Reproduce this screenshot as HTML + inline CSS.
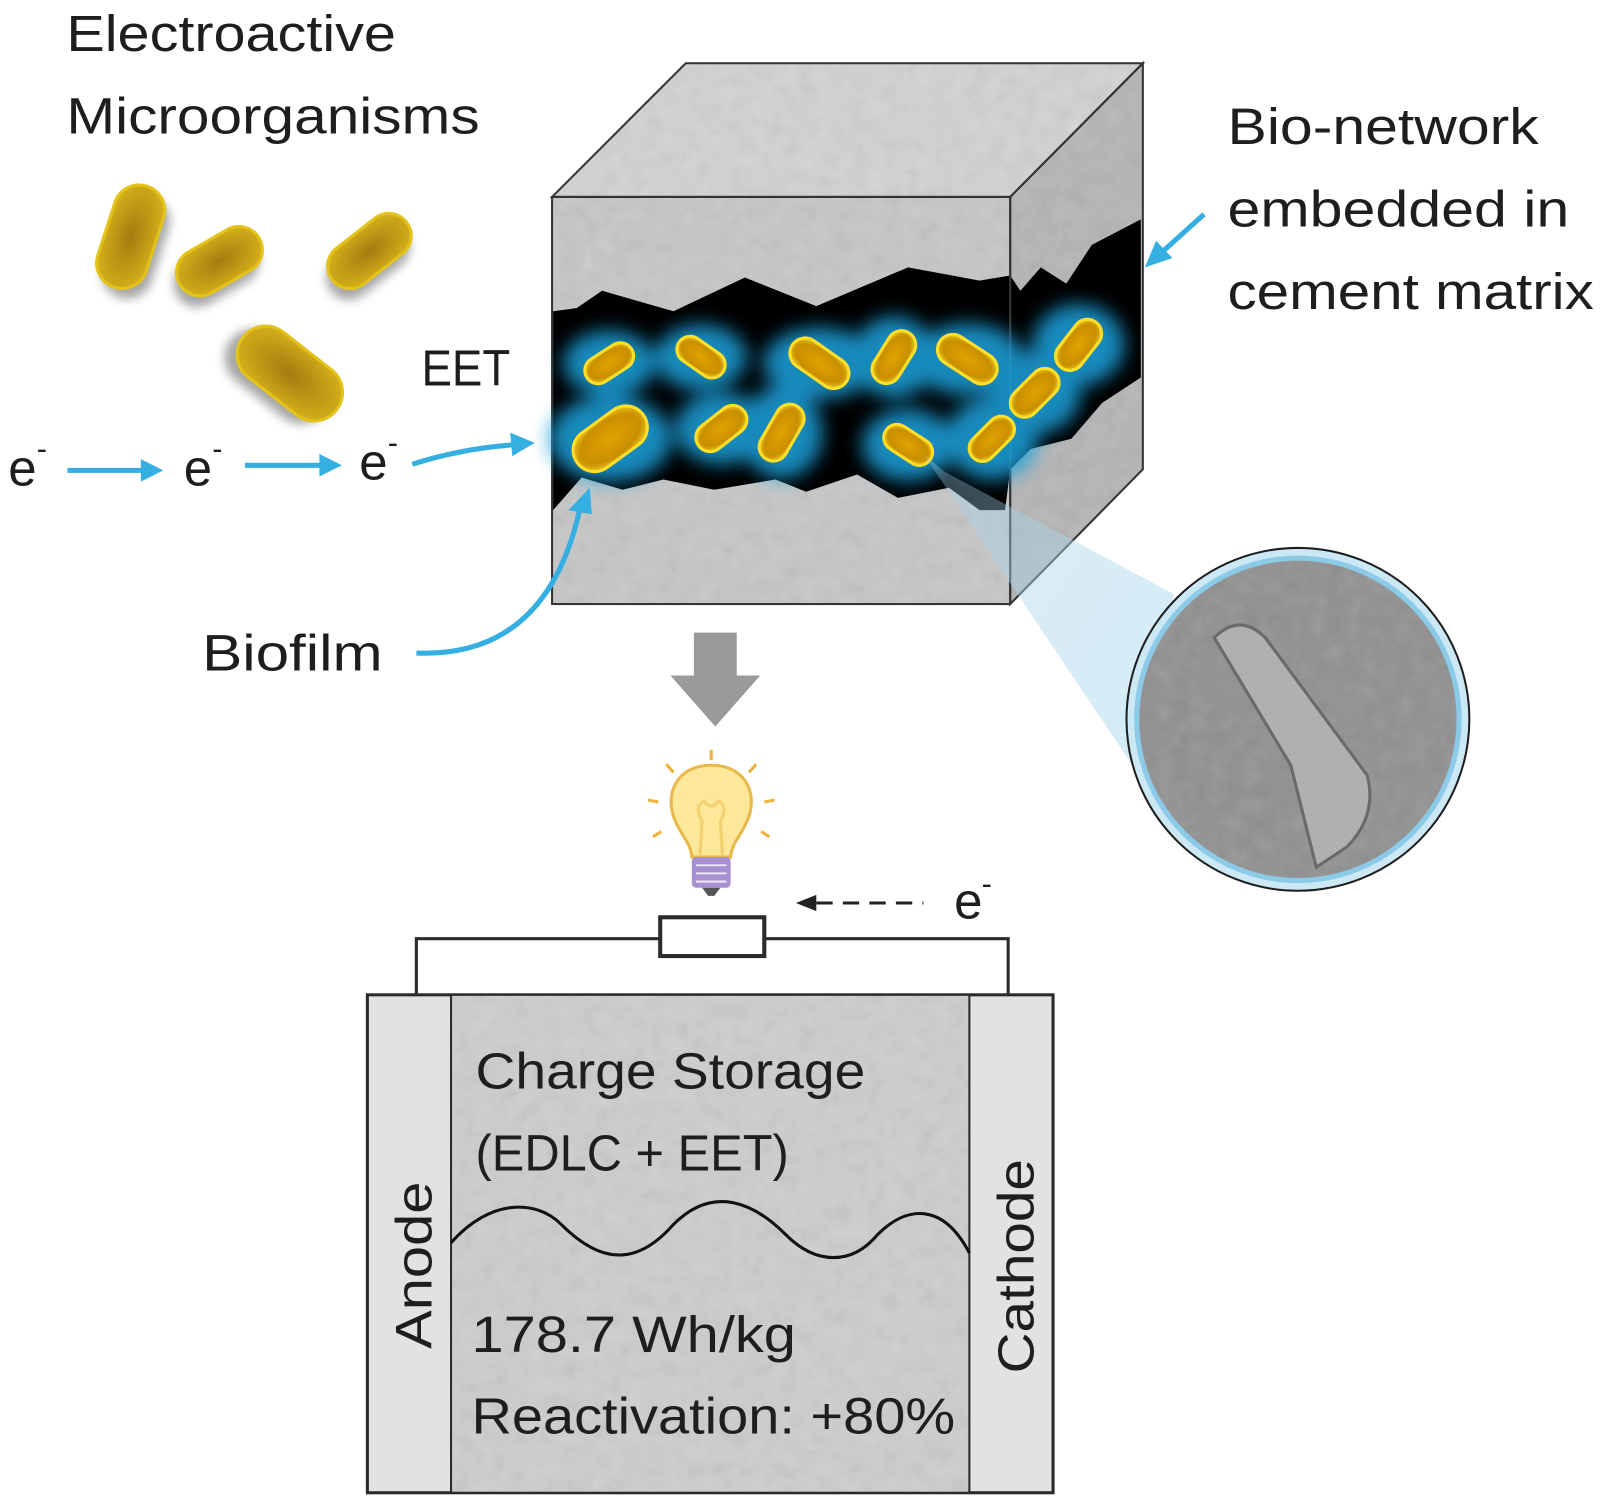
<!DOCTYPE html>
<html><head><meta charset="utf-8"><style>
html,body{margin:0;padding:0;background:#fff;}
svg{display:block;}
text{font-family:"Liberation Sans","DejaVu Sans",sans-serif;fill:#1e1e1e;}
</style></head><body>
<svg width="1600" height="1505" viewBox="0 0 1568 1475" xmlns="http://www.w3.org/2000/svg">
<defs>
<filter id="glow" x="-50%" y="-50%" width="200%" height="200%"><feGaussianBlur stdDeviation="9"/></filter>
<filter id="sh" x="-50%" y="-50%" width="200%" height="200%"><feGaussianBlur stdDeviation="5"/></filter>
<filter id="noise" x="0" y="0" width="1" height="1"><feTurbulence type="fractalNoise" baseFrequency="0.06" numOctaves="3" seed="3"/><feColorMatrix type="saturate" values="0"/><feComponentTransfer><feFuncA type="linear" slope="0.22"/></feComponentTransfer></filter>
<linearGradient id="cone" x1="0" y1="0" x2="1" y2="1"><stop offset="0" stop-color="#9fcfe8" stop-opacity="0.4"/><stop offset="1" stop-color="#bfe2f3" stop-opacity="0.9"/></linearGradient>
<radialGradient id="rodY" cx="0.5" cy="0.5" r="0.6"><stop offset="0" stop-color="#e0a300"/><stop offset="0.7" stop-color="#c98f00"/><stop offset="1" stop-color="#f3d020"/></radialGradient>
<radialGradient id="rodB" cx="0.5" cy="0.5" r="0.6"><stop offset="0" stop-color="#a67a10"/><stop offset="1" stop-color="#d7b21a"/></radialGradient>
<clipPath id="circ"><circle cx="1272" cy="705" r="158"/></clipPath>
<clipPath id="mid"><rect x="442" y="975" width="508" height="488"/></clipPath>
<clipPath id="cube"><polygon points="541,193 672,62 1120,62 1120,460 990,592 541,592"/></clipPath>
</defs>

<!-- titles -->
<text x="65" y="50" font-size="50" textLength="323" lengthAdjust="spacingAndGlyphs">Electroactive</text>
<text x="65" y="131" font-size="50" textLength="405" lengthAdjust="spacingAndGlyphs">Microorganisms</text>

<!-- free bacteria -->
<g>
<g transform="translate(128,232) rotate(-72)"><rect x="-52" y="-25" width="104" height="50" rx="25" fill="#000" opacity="0.35" filter="url(#sh)" transform="translate(-8,8)"/><rect x="-52" y="-25" width="104" height="50" rx="25" fill="url(#rodB)" stroke="#e3c21a" stroke-width="3"/></g>
<g transform="translate(215,256) rotate(-30)"><rect x="-45" y="-23" width="90" height="46" rx="23" fill="#000" opacity="0.35" filter="url(#sh)" transform="translate(-8,8)"/><rect x="-45" y="-23" width="90" height="46" rx="23" fill="url(#rodB)" stroke="#e3c21a" stroke-width="3"/></g>
<g transform="translate(362,246) rotate(-38)"><rect x="-46" y="-22" width="92" height="44" rx="22" fill="#000" opacity="0.35" filter="url(#sh)" transform="translate(-8,8)"/><rect x="-46" y="-22" width="92" height="44" rx="22" fill="url(#rodB)" stroke="#e3c21a" stroke-width="3"/></g>
<g transform="translate(284,366) rotate(38)"><rect x="-58" y="-28" width="116" height="56" rx="28" fill="#000" opacity="0.35" filter="url(#sh)" transform="translate(-8,10)"/><rect x="-58" y="-28" width="116" height="56" rx="28" fill="url(#rodB)" stroke="#e3c21a" stroke-width="3"/></g>
</g>

<!-- e- chain -->
<g fill="#1e1e1e">
<text x="8" y="476" font-size="50">e</text><text x="36" y="450" font-size="30">-</text>
<text x="180" y="476" font-size="50">e</text><text x="208" y="450" font-size="30">-</text>
<text x="352" y="470" font-size="50">e</text><text x="380" y="444" font-size="30">-</text>
</g>
<g stroke="#35aee2" stroke-width="5" fill="#35aee2">
<line x1="66" y1="461" x2="140" y2="461"/><polygon points="160,461 138,450 138,472" stroke="none"/>
<line x1="240" y1="456" x2="315" y2="456"/><polygon points="335,456 313,445 313,467" stroke="none"/>
<path d="M404 455 Q450 440 502 436" fill="none"/><polygon points="524,434 500,424 502,447" stroke="none"/>
</g>
<text x="413" y="378" font-size="50" textLength="87" lengthAdjust="spacingAndGlyphs">EET</text>

<!-- cube -->
<polygon points="541,193 990,193 1120,62 672,62" fill="#d2d2d2"/>
<polygon points="990,193 1120,62 1120,460 990,592" fill="#b4b4b4"/>
<rect x="541" y="193" width="449" height="399" fill="#c6c6c6"/>
<g clip-path="url(#cube)"><rect x="541" y="62" width="579" height="530" filter="url(#noise)"/></g>
<!-- crack -->
<polygon points="542,305 565,302 590,285 660,305 730,272 800,300 890,262 960,275 990,270 1000,285 1020,262 1045,278 1070,240 1118,215 1118,370 1080,395 1050,430 1010,440 990,460 985,500 960,500 930,478 880,488 840,465 790,482 760,470 700,480 650,470 610,480 570,468 542,500" fill="#000"/>
<polygon points="541,193 990,193 1120,62 672,62" fill="none" stroke="#333" stroke-width="2"/>
<polygon points="990,193 1120,62 1120,460 990,592" fill="none" stroke="#333" stroke-width="2"/>
<rect x="541" y="193" width="449" height="399" fill="none" stroke="#333" stroke-width="2"/>
<!-- glows -->
<g fill="#1aa3de" opacity="0.85" filter="url(#glow)">
<ellipse cx="597" cy="356" rx="45" ry="32"/><ellipse cx="687" cy="350" rx="45" ry="32"/>
<ellipse cx="803" cy="356" rx="55" ry="35"/><ellipse cx="876" cy="350" rx="40" ry="40"/>
<ellipse cx="948" cy="352" rx="55" ry="35"/><ellipse cx="1057" cy="338" rx="45" ry="40"/>
<ellipse cx="598" cy="430" rx="60" ry="42"/><ellipse cx="707" cy="420" rx="45" ry="35"/>
<ellipse cx="766" cy="424" rx="40" ry="45"/><ellipse cx="890" cy="436" rx="45" ry="35"/>
<ellipse cx="972" cy="430" rx="45" ry="40"/><ellipse cx="1014" cy="385" rx="45" ry="40"/>
</g>
<g fill="url(#rodY)" stroke="#ffdf2a" stroke-width="3">
<rect x="-26" y="-13" width="52" height="26" rx="13" transform="translate(597,356) rotate(-33)"/>
<rect x="-26" y="-13" width="52" height="26" rx="13" transform="translate(687,350) rotate(35)"/>
<rect x="-32" y="-15" width="64" height="30" rx="15" transform="translate(803,356) rotate(35)"/>
<rect x="-28" y="-14" width="56" height="28" rx="14" transform="translate(876,350) rotate(-58)"/>
<rect x="-32" y="-15" width="64" height="30" rx="15" transform="translate(948,352) rotate(33)"/>
<rect x="-28" y="-14" width="56" height="28" rx="14" transform="translate(1057,338) rotate(-52)"/>
<rect x="-40" y="-21" width="80" height="42" rx="21" transform="translate(598,430) rotate(-36)"/>
<rect x="-28" y="-14" width="56" height="28" rx="14" transform="translate(707,420) rotate(-38)"/>
<rect x="-30" y="-14" width="60" height="28" rx="14" transform="translate(766,424) rotate(-60)"/>
<rect x="-26" y="-13" width="52" height="26" rx="13" transform="translate(890,436) rotate(33)"/>
<rect x="-26" y="-13" width="52" height="26" rx="13" transform="translate(972,430) rotate(-45)"/>
<rect x="-28" y="-14" width="56" height="28" rx="14" transform="translate(1014,385) rotate(-45)"/>
</g>
<!-- magnifier cone -->
<polygon points="905,445 925,462 1150,582 1150,810" fill="url(#cone)" opacity="0.75"/>
<circle cx="1272" cy="705" r="168" fill="#cce8f5" stroke="#1e1e1e" stroke-width="2"/>
<g clip-path="url(#circ)">
<rect x="1110" y="545" width="330" height="330" fill="#8f8f8f"/>
<rect x="1110" y="545" width="330" height="330" filter="url(#noise)"/>
<path d="M1190 625 Q1215 600 1240 625 L1340 760 Q1350 800 1320 830 L1290 850 L1265 750 Z" fill="#b0b0b0" stroke="#6a6a6a" stroke-width="3"/>
</g>
<circle cx="1272" cy="705" r="158" fill="none" stroke="#8ccbe8" stroke-width="5"/>

<!-- labels right / biofilm -->
<text x="1203" y="141" font-size="50" textLength="305" lengthAdjust="spacingAndGlyphs">Bio-network</text>
<text x="1203" y="222" font-size="50" textLength="335" lengthAdjust="spacingAndGlyphs">embedded in</text>
<text x="1203" y="303" font-size="50" textLength="359" lengthAdjust="spacingAndGlyphs">cement matrix</text>
<g stroke="#35aee2" stroke-width="5" fill="#35aee2">
<line x1="1180" y1="210" x2="1140" y2="246"/><polygon points="1122,262 1133,236 1149,253" stroke="none"/>
<path d="M408 640 Q535 645 568 500" fill="none"/><polygon points="578,478 557,500 580,504" stroke="none"/>
</g>
<text x="198" y="657" font-size="50" textLength="177" lengthAdjust="spacingAndGlyphs">Biofilm</text>

<!-- down arrow -->
<polygon points="680,620 722,620 722,662 745,662 701,712 657,662 680,662" fill="#9a9a9a"/>

<!-- bulb -->
<g>
<g stroke="#f0b23a" stroke-width="3">
<line x1="697" y1="745" x2="697" y2="735"/><line x1="660" y1="757" x2="653" y2="749"/><line x1="734" y1="757" x2="741" y2="749"/>
<line x1="645" y1="786" x2="635" y2="784"/><line x1="749" y1="786" x2="759" y2="784"/>
<line x1="648" y1="815" x2="640" y2="820"/><line x1="746" y1="815" x2="754" y2="820"/>
</g>
<path d="M697 750 C665 750 652 775 660 800 C666 818 677 825 678 840 L716 840 C717 825 728 818 734 800 C742 775 729 750 697 750 Z" fill="#fde89a" stroke="#e8b94a" stroke-width="3"/>
<path d="M686 838 L688 805 Q680 790 690 785 Q697 795 704 785 Q714 790 706 805 L708 838" fill="none" stroke="#f5d070" stroke-width="3"/>
<rect x="678" y="840" width="38" height="30" rx="4" fill="#a78fd0"/>
<g stroke="#ece4f7" stroke-width="2"><line x1="682" y1="848" x2="712" y2="848"/><line x1="682" y1="856" x2="712" y2="856"/><line x1="682" y1="864" x2="712" y2="864"/></g>
<path d="M688 870 L706 870 L700 878 L694 878 Z" fill="#555"/>
</g>

<!-- circuit -->
<polyline points="408,975 408,920 647,920" fill="none" stroke="#2a2a2a" stroke-width="3"/>
<polyline points="749,920 988,920 988,975" fill="none" stroke="#2a2a2a" stroke-width="3"/>
<rect x="647" y="899" width="102" height="38" fill="#fff" stroke="#2a2a2a" stroke-width="4"/>
<line x1="800" y1="885" x2="905" y2="885" stroke="#222" stroke-width="3" stroke-dasharray="16,10"/>
<polygon points="780,885 800,877 800,893" fill="#222"/>
<text x="935" y="900" font-size="50">e</text><text x="962" y="876" font-size="30">-</text>

<!-- battery -->
<rect x="360" y="975" width="672" height="488" fill="#e2e2e2" stroke="#2a2a2a" stroke-width="3"/>
<rect x="442" y="975" width="508" height="488" fill="#cdcdcd"/>
<g clip-path="url(#mid)"><rect x="442" y="975" width="508" height="488" filter="url(#noise)"/></g>
<rect x="442" y="975" width="508" height="488" fill="none" stroke="#2a2a2a" stroke-width="2"/>
<text x="466" y="1067" font-size="50" textLength="382" lengthAdjust="spacingAndGlyphs">Charge Storage</text>
<text x="466" y="1147" font-size="50" textLength="307" lengthAdjust="spacingAndGlyphs">(EDLC + EET)</text>
<path d="M442 1218 C480 1175 525 1175 550 1200 C590 1240 625 1240 660 1200 C700 1160 740 1180 770 1210 C800 1240 835 1240 860 1210 C890 1180 925 1180 950 1228" fill="none" stroke="#111" stroke-width="3"/>
<text x="462" y="1325" font-size="50" textLength="318" lengthAdjust="spacingAndGlyphs">178.7 Wh/kg</text>
<text x="462" y="1405" font-size="50" textLength="474" lengthAdjust="spacingAndGlyphs">Reactivation: +80%</text>
<text transform="translate(423,1322) rotate(-90)" font-size="50" textLength="164" lengthAdjust="spacingAndGlyphs">Anode</text>
<text transform="translate(1013,1346) rotate(-90)" font-size="50" textLength="210" lengthAdjust="spacingAndGlyphs">Cathode</text>
</svg>
</body></html>
